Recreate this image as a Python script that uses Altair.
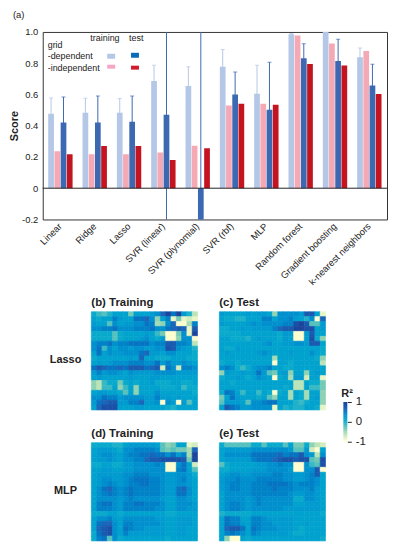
import altair as alt
import pandas as pd

FONT = "Liberation Sans"
INK = "#222222"

models = ["Linear", "Ridge", "Lasso", "SVR (linear)", "SVR (plynomial)", "SVR (rbf)", "MLP",
          "Random forest", "Gradient boosting", "k-nearest neighbors"]
series = ["train_dep", "train_ind", "test_dep", "test_ind"]
bar_colors = ["#b4c7e7", "#f4a9b4", "#3d69b3", "#c4141f"]

train_dep = [0.477, 0.483, 0.483, 0.686, 0.654, 0.778, 0.605, 0.985, 1.005, 0.838]
train_ind = [0.236, 0.217, 0.217, 0.228, 0.272, 0.530, 0.540, 0.977, 0.926, 0.878]
test_dep = [0.420, 0.420, 0.426, 0.470, -0.60, 0.600, 0.502, 0.831, 0.814, 0.658]
test_ind = [0.217, 0.270, 0.270, 0.181, 0.255, 0.540, 0.534, 0.795, 0.785, 0.603]

train_lo = [0.378, 0.388, 0.388, 0.578, 0.530, 0.673, 0.430, 0.970, 1.000, 0.780]
train_hi = [0.578, 0.576, 0.574, 0.787, 0.778, 0.888, 0.787, 0.990, 1.010, 0.897]
test_lo = [0.257, 0.250, 0.257, -0.60, -1.80, 0.462, 0.200, 0.694, 0.677, 0.515]
test_hi = [0.584, 0.590, 0.590, 1.50, 1.60, 0.743, 0.806, 0.924, 0.954, 0.793]

# Heatmap values: R-squared in tenths
lasso_train = [
    [0, -2, -3, -1, 1, 1, 1, -4, 1, 1, 1, 2, 3, 6, 9, 5, 9, 2, -1, -7],
    [1, 0, 1, 1, 4, 2, 1, 1, 5, 5, 6, 3, -5, 1, 4, -9, -4, -9, -8, -9],
    [2, 1, 1, -3, 3, 1, 2, 2, 3, 3, 5, 4, -6, -5, 3, 6, -10, -10, -6, 4],
    [3, 3, 4, 4, 5, 3, 3, 3, 4, 4, 4, 5, 3, 3, 5, 6, 7, 6, -9, 7],
    [0, 0, 0, 0, -3, 0, 1, 1, 1, 1, 2, 1, -2, -4, -10, -10, -4, 3, -9, 9],
    [0, 0, 0, 0, -3, 0, 1, 1, 1, 2, 3, 1, 0, 2, -10, -10, -5, 3, 3, -10],
    [3, 4, 4, 5, 3, 4, 4, 5, 5, 5, 5, 3, 4, 4, 7, 7, 4, 4, 3, -7],
    [3, 5, -2, 3, 1, 3, 3, 2, 3, 3, 2, 2, 3, 3, 8, 7, 3, 2, 1, -1],
    [1, 5, 1, 3, 2, 2, 3, 3, 3, 5, 6, 2, 2, 1, 3, 3, 1, 1, 1, 0],
    [0, 1, 1, 1, 1, 1, 1, 2, 1, 6, 1, 1, 0, 0, 0, 1, 1, 1, 0, 0],
    [1, 2, 1, 2, 3, 3, 3, 4, 4, 4, 3, 3, 5, 2, 4, 2, 2, 3, 2, 1],
    [5, 7, 6, 5, 5, 6, 5, 7, 7, 7, 5, 6, 7, -8, 5, 3, -8, 4, 4, 3],
    [2, 4, 2, 3, 3, 2, 1, 3, 2, 2, 2, 2, 3, 3, 3, 3, 2, 2, 2, 2],
    [1, 2, 1, 1, 1, 1, 1, 2, 1, 1, 1, 2, 2, 1, 1, 1, 1, 1, 1, 1],
    [-5, -7, -2, 0, 0, -4, 0, 1, 0, 1, 1, 2, 0, 0, 0, 1, 1, 0, 0, 1],
    [-5, -7, -2, -2, 1, -5, -2, 1, -5, 1, 1, 1, 1, 0, 0, 0, 1, -2, 0, 0],
    [1, 2, 2, 1, 1, 0, -3, 1, -5, 1, 1, 1, 3, 1, 1, 1, 1, 1, 1, 0],
    [3, 3, 5, 4, 4, 2, 3, 3, 3, 3, 2, 2, 4, 2, 2, 1, 2, 1, 1, 1],
    [2, 5, 6, 7, 7, 2, 2, 4, 4, 6, 2, 2, 3, -10, 3, 2, -10, 2, -3, 1],
    [1, 6, 8, 8, 8, 1, 1, 1, 2, 2, 1, 1, 1, 1, 0, -1, 1, 1, 1, 1],
]
lasso_test = [
    [2, 1, 1, 1, 1, 2, 1, 2, 2, 1, -5, 3, 3, 3, 3, 2, 7, 7, 1, -9],
    [1, 0, 0, -1, -1, 1, 1, 1, 4, 4, 1, 3, 3, 4, 2, 1, -1, 3, -10, 6],
    [2, 1, 1, 1, 1, 2, 3, 2, 3, 3, 3, 3, 4, 4, 8, 9, 7, -3, -3, 2],
    [0, 0, 1, 1, 2, 1, 2, 2, 2, 2, 4, 6, 7, 7, 9, 9, 8, 8, 1, 2],
    [0, 0, 0, 0, 1, 1, 1, 1, 1, 1, 1, 0, 2, 2, -10, -10, 2, 7, 1, 1],
    [1, 1, 0, 0, 0, -1, 1, 2, 1, 1, 1, 0, 2, 1, -10, -10, 2, 8, 0, -5],
    [1, 1, 1, 1, 1, 1, 1, 1, 2, 3, 1, 1, 2, 2, 3, 3, 2, 7, 7, 1],
    [1, 0, 0, 2, 1, 1, 1, 1, 1, 1, 1, 1, 1, 1, 1, 1, 1, 1, 1, 0],
    [1, 2, 1, 1, 1, 1, 1, 2, 3, 2, 1, 1, 1, 2, 1, 1, 1, 3, 1, 0],
    [1, 1, 1, 1, 1, 1, 1, 1, 1, 1, -6, 1, 1, 1, 1, 1, 1, 1, 0, -5],
    [0, 1, 1, 0, 1, 1, 1, 1, 1, 1, -10, 1, 1, 0, 1, 1, 1, 1, 1, -7],
    [3, 4, 3, 0, -2, 0, 2, 3, 3, 4, 1, 1, 0, 0, 1, 1, 1, 1, 1, 1],
    [-5, 2, 1, 1, 2, 1, 2, 5, 2, -3, -4, 1, 2, -5, 1, 1, -5, 1, 2, 1],
    [0, 1, 1, 2, 1, 0, 1, 3, 2, 1, -10, 0, 1, -6, 2, 2, -8, 1, 1, -9],
    [1, 1, 0, 1, 1, 1, 1, 1, 1, 1, 1, 1, 1, 1, -7, -7, 1, 0, 0, -4],
    [1, 1, 1, 1, 1, 1, 1, 1, 1, 1, 1, 1, 0, 1, -7, -7, 1, -2, -2, -4],
    [0, 5, 4, 1, -2, 1, 1, -2, 1, 0, -10, 0, 1, -6, 1, 0, -6, 1, 1, -5],
    [-4, 1, 5, 2, 1, 1, 1, 0, 1, -3, -5, 1, 1, -6, 1, 0, -6, 1, 2, -5],
    [-3, 2, 2, 2, 1, -3, 3, 3, 4, 5, 5, 1, 1, 1, -1, -2, 0, 1, 1, -5],
    [1, 7, 5, 4, 2, 2, 3, 3, 3, 3, -9, 1, -1, 0, -1, -1, 1, 1, 0, -9],
]
mlp_train = [
    [0, 0, 0, 0, -1, -1, 1, 2, 2, 2, 2, 2, 1, -3, -5, -4, 1, 1, -9, -8],
    [1, 2, 2, 2, 1, 0, 3, 3, 4, 4, 4, 4, 3, -3, -4, -3, -4, -4, -6, 6],
    [1, 2, 3, 3, 2, 1, 3, 4, 4, 5, 5, 6, 5, 5, 3, 5, 2, 4, -6, 9],
    [1, 2, 2, 3, 2, 1, 3, 3, 4, 4, 6, 7, 7, 8, 8, 8, 8, 7, -4, 9],
    [0, 0, 1, 1, 0, 0, 2, 2, 3, 3, 3, 3, 4, 3, -10, -10, 3, 5, 1, -8],
    [1, 1, 2, 2, 1, 1, 2, 2, 3, 3, 3, 3, 3, 3, -10, -10, 4, 5, 1, -3],
    [1, 2, 2, 2, 2, 2, 3, 3, 4, 4, 4, 3, 3, 3, 2, 2, 3, 3, 2, 0],
    [1, 2, 3, 3, 2, 2, 3, 4, 5, 5, 5, 4, 4, 3, 2, 2, 3, 4, 2, 1],
    [1, 2, 3, 4, 3, 2, 3, 4, 4, 5, 5, 4, 4, 3, 2, 2, 3, 3, 2, 1],
    [1, 3, 5, 6, 4, 3, 4, 5, 4, 4, 4, 4, 4, 3, 2, 2, 5, 6, 3, 1],
    [1, 3, 4, 5, 4, 3, 4, 5, 4, 4, 4, 4, 4, 3, 2, 2, 5, 5, 3, 1],
    [1, 3, 3, 3, 3, 2, 3, 4, 3, 3, 3, 3, 3, 2, 1, 1, 3, 3, 2, 1],
    [1, 4, 5, 5, 3, 2, 4, 4, 5, 5, 4, 4, 4, 3, 1, 1, 3, 3, 3, 2],
    [1, 4, 4, 4, 3, 2, 4, 4, 4, 4, 4, 4, 3, 3, 1, 1, 3, 3, 2, 2],
    [0, 0, 0, 1, 1, 0, 1, 1, 1, 1, 1, 1, 1, 1, 0, 0, 1, 1, 1, 1],
    [1, 3, 3, 4, 2, 1, 3, 3, 3, 3, 3, 3, 2, 2, 1, 1, 2, 2, 2, 1],
    [1, 5, 6, 6, 3, 1, 4, 4, 3, 3, 3, 3, 3, 2, 1, 1, 2, 2, 2, 1],
    [1, 6, 7, 8, 3, 1, 5, 4, 3, 3, 2, 2, 2, 2, 1, 1, 2, 2, 1, 1],
    [0, 5, 7, 8, 3, 1, 4, 2, 2, 2, 2, 2, 2, 2, 1, 1, 2, 2, 1, 1],
    [0, 4, 5, -3, 3, 0, 1, 1, 1, 1, 1, 1, 1, 1, 0, 1, 1, 1, 1, 1],
]
mlp_test = [
    [0, -3, -3, -3, -3, -3, 0, 0, -3, 0, 0, 0, -3, 1, -4, -4, 0, -5, -7, -8],
    [1, 2, 2, 2, 2, 2, 3, 3, 3, 3, 3, 3, 3, 2, -3, -3, 2, -8, -10, 1],
    [1, 3, 3, 3, 3, 3, 5, 5, 5, 5, 5, 6, 4, 5, 5, 7, 3, 2, -7, 3],
    [1, 2, 2, 2, 2, 2, 4, 5, 5, 5, 6, 7, 8, 8, 7, 8, 8, -3, -4, 8],
    [-3, 0, 1, 1, 1, 1, 1, 2, 2, 3, 3, 4, 3, 3, -10, -10, 3, -2, -3, 8],
    [0, 0, 1, 1, 1, 1, 2, 2, 2, 3, 3, 3, 3, 2, -10, -10, 3, 3, 7, -10],
    [1, 2, 3, 3, 2, 2, 3, 3, 3, 3, 4, 4, 3, 3, 2, 2, 3, 4, 7, 1],
    [2, 3, 3, 4, 3, 3, 3, 4, 4, 4, 4, 4, 3, 3, 2, 2, 3, 4, 3, 1],
    [2, 3, 4, 4, 3, 3, 4, 4, 4, 5, 5, 5, 5, 4, 3, 4, 4, 4, 3, 1],
    [2, 3, 4, 4, 3, 3, 4, 4, 4, 4, 5, 4, 4, 4, 3, 3, 3, 4, 2, 1],
    [1, 3, 3, 3, 3, 3, 4, 4, 4, 4, 4, 4, 4, 3, 2, 2, 3, 3, 2, 1],
    [1, 3, 3, 3, 3, 2, 3, 4, 3, 3, 3, 3, 3, 3, 0, 0, 3, 3, 2, 1],
    [1, 3, 4, 4, 3, 2, 3, 4, 3, 3, 3, 3, 3, 3, 1, 1, 2, 2, 2, 1],
    [1, 3, 4, 4, 3, 2, 3, 3, 3, 3, 3, 3, 2, 2, 2, 2, 2, 2, 2, 1],
    [-1, 0, 0, 0, 0, 0, 1, 1, 1, 1, 1, 1, 1, 1, 1, 1, 1, 1, 1, 0],
    [1, 5, 4, 4, 1, 1, 4, 4, 3, 2, 2, 2, 2, 2, 1, 1, 1, 1, 1, 1],
    [1, 5, 4, 4, 2, 1, 4, 4, 3, 3, 2, 2, 2, 2, 1, 1, 2, 1, 1, 1],
    [1, 6, 7, 7, 5, 1, 5, 4, 3, 3, 3, 2, 2, 2, 1, 0, 1, 1, 1, 1],
    [1, 4, 5, 4, 3, 1, 4, 3, 2, 2, 2, 2, 2, 1, 0, 0, 1, 1, 1, 1],
    [1, -5, -10, -10, 1, 0, 1, 1, 1, 1, 1, 1, 1, 1, 1, 1, 1, 1, 1, 0],
]

colorbar_levels = [-1, -0.9, -0.8, -0.7, -0.6, -0.5, -0.4, -0.3, -0.2, -0.1, 0,
                   0.1, 0.2, 0.3, 0.4, 0.5, 0.6, 0.7, 0.8, 0.9]
colorbar_ticks = [-1, 0, 1]
score_ticks = [-0.2, 0, 0.2, 0.4, 0.6, 0.8, 1.0]

bars = pd.DataFrame({
    "model": models * 4,
    "series": sum([[s] * len(models) for s in series], []),
    "value": train_dep + train_ind + test_dep + test_ind,
})
errs = pd.DataFrame({
    "model": models * 2,
    "series": ["train_dep"] * len(models) + ["test_dep"] * len(models),
    "lo": train_lo + test_lo,
    "hi": train_hi + test_hi,
})

x_scale = alt.Scale(domain=models, paddingInner=0.29, paddingOuter=0.16)
y_scale = alt.Scale(domain=[-0.2, 1.0], nice=False)
off_scale = alt.Scale(domain=series, paddingInner=0.08, paddingOuter=0)
x_enc = alt.X("model:N", scale=x_scale, sort=models, title=None,
              axis=alt.Axis(labelAngle=-45, labelAlign="right", labelBaseline="middle", ticks=False,
                            domain=False, labelFontSize=9.5, labelColor=INK, labelFont=FONT,
                            labelPadding=5, labelLimit=200))
off_enc = alt.XOffset("series:N", scale=off_scale, sort=series)
y_axis = alt.Axis(values=score_ticks, grid=False, ticks=False, domain=False, labelOverlap=False,
                  labelExpr="datum.value == 0 ? '0' : replace(format(datum.value, '.1f'), '\u2212', '-')",
                  labelFontSize=9.5, labelFont=FONT, labelColor=INK, labelPadding=5,
                  titleFont=FONT, titleFontSize=11, titleFontWeight="bold", titleColor=INK, titlePadding=2)

bar_layer = alt.Chart(bars).mark_bar(clip=True).encode(
    x=x_enc, xOffset=off_enc,
    y=alt.Y("value:Q", scale=y_scale, title="Score", axis=y_axis),
    color=alt.Color("series:N", scale=alt.Scale(domain=series, range=bar_colors), legend=None),
)
err_colors = alt.Scale(domain=series, range=["#a6bce2", "#f4a9b4", "#4a76bd", "#c4141f"])
err_layer = alt.Chart(errs).mark_rule(clip=True, strokeWidth=1).encode(
    x=x_enc, xOffset=off_enc, y=alt.Y("lo:Q", scale=y_scale, title="Score", axis=y_axis), y2="hi:Q",
    color=alt.Color("series:N", scale=err_colors, legend=None),
)
cap_hi = alt.Chart(errs).mark_tick(clip=True, size=4, thickness=1, orient="horizontal").encode(
    x=x_enc, xOffset=off_enc, y=alt.Y("hi:Q", scale=y_scale, title="Score", axis=y_axis),
    color=alt.Color("series:N", scale=err_colors, legend=None),
)
cap_lo = alt.Chart(errs).mark_tick(clip=True, size=4, thickness=1, orient="horizontal").encode(
    x=x_enc, xOffset=off_enc, y=alt.Y("lo:Q", scale=y_scale, title="Score", axis=y_axis),
    color=alt.Color("series:N", scale=err_colors, legend=None),
)
zero = alt.Chart(pd.DataFrame({"z": [0]})).mark_rule(color="#222222", strokeWidth=1).encode(
    y=alt.Y("z:Q", scale=y_scale, title="Score", axis=y_axis))


def label(text, px, py, weight="normal", size=9, align="left"):
    return alt.Chart(pd.DataFrame({"t": [text]})).mark_text(
        font=FONT, fontSize=size, fontWeight=weight, align=align, baseline="alphabetic", color=INK,
    ).encode(text="t:N", x=alt.value(px), y=alt.value(py))


def swatch(color, x0, x1, y0, y1):
    return alt.Chart(pd.DataFrame({"c": [color]})).mark_rect(color=color).encode(
        x=alt.value(x0), x2=alt.value(x1), y=alt.value(y0), y2=alt.value(y1))


main = alt.layer(
    bar_layer, err_layer, cap_lo, cap_hi, zero,
    label("(a)", -30, -14, size=9.5),
    label("training", 48, 9), label("test", 87, 9),
    label("grid", 5, 16),
    label("-dependent", 5, 27), label("-independent", 5, 39),
    swatch("#b4c7e7", 65, 73, 22, 27), swatch("#0a6cb8", 89, 97, 21, 26),
    swatch("#f4a6c4", 65, 73, 33, 37), swatch("#d01c2a", 89, 97, 34, 38),
).properties(width=347, height=189, view=alt.ViewConfig(stroke="#333333", strokeWidth=1))

heat_domain = [-1, -0.5, -0.15, 0.25, 0.6, 1]
heat_range = ["#fdfdd0", "#8fd2b4", "#28b4c8", "#0c97d0", "#1a66ba", "#1c3a92"]


def heat(rows, title, lift=0):
    df = pd.DataFrame([
        {"r": i, "c": j, "v": v / 10, "edge": v / 10} for i, row in enumerate(rows) for j, v in enumerate(row)
    ])
    scale = alt.Scale(domain=heat_domain, range=heat_range)
    cells = alt.Chart(df).mark_rect(strokeWidth=0.6).encode(
        x=alt.X("c:O", axis=None, scale=alt.Scale(paddingInner=0, paddingOuter=0)),
        y=alt.Y("r:O", axis=None, scale=alt.Scale(range=[-lift, 99 - lift], paddingInner=0, paddingOuter=0)),
        color=alt.Color("v:Q", scale=scale, legend=None),
        stroke=alt.Stroke("edge:Q", scale=scale, legend=None),
    )
    return alt.layer(cells, label(title, 0, -6 - lift, weight="bold", size=11.5)).properties(width=107, height=99)


def row_label(text, lift=0):
    return alt.Chart(pd.DataFrame({"t": [text]})).mark_text(
        font=FONT, fontSize=11, fontWeight="bold", color=INK, align="center", baseline="middle",
    ).encode(text="t:N", x=alt.value(23), y=alt.value(49 - lift)).properties(width=40, height=99)


bar_df = pd.DataFrame({"lo": colorbar_levels, "hi": [v + 0.1 for v in colorbar_levels], "v": colorbar_levels})
bar_y = alt.Scale(domain=[-1, 1], range=[131, 91], nice=False)
colorbar = alt.layer(
    alt.Chart(bar_df).mark_rect(strokeWidth=0.3).encode(
        x=alt.value(9), x2=alt.value(13),
        y=alt.Y("lo:Q", scale=bar_y, title=None,
                axis=alt.Axis(orient="right", values=colorbar_ticks, grid=False, domain=False, tickSize=4,
                              tickColor=INK, labelOverlap=False, labelFont=FONT, labelFontSize=11.5,
                              labelColor=INK, labelPadding=4,
                              labelExpr="replace(format(datum.value, 'd'), '\u2212', '-')")),
        y2="hi:Q",
        color=alt.Color("v:Q", scale=alt.Scale(domain=heat_domain, range=heat_range), legend=None),
    ),
    label("R\u00b2", 7, 86, weight="bold", size=11),
).properties(width=13, height=131)

row1 = alt.hconcat(row_label("Lasso"),
                   alt.hconcat(heat(lasso_train, "(b) Training"), heat(lasso_test, "(c) Test"), spacing=20),
                   colorbar, spacing=8)
row2 = alt.hconcat(row_label("MLP", 5),
                   alt.hconcat(heat(mlp_train, "(d) Training", 5), heat(mlp_test, "(e) Test", 5), spacing=20),
                   spacing=8)

chart = alt.vconcat(main, alt.vconcat(row1, row2, spacing=-26), spacing=9).properties(
    padding={"left": 0, "top": -1, "right": 0, "bottom": 0}, background="white"
).configure_view(stroke=None).configure_axis(labelOverlap=False)

chart.save("out.html", embed_options={"renderer": "svg", "actions": False})
